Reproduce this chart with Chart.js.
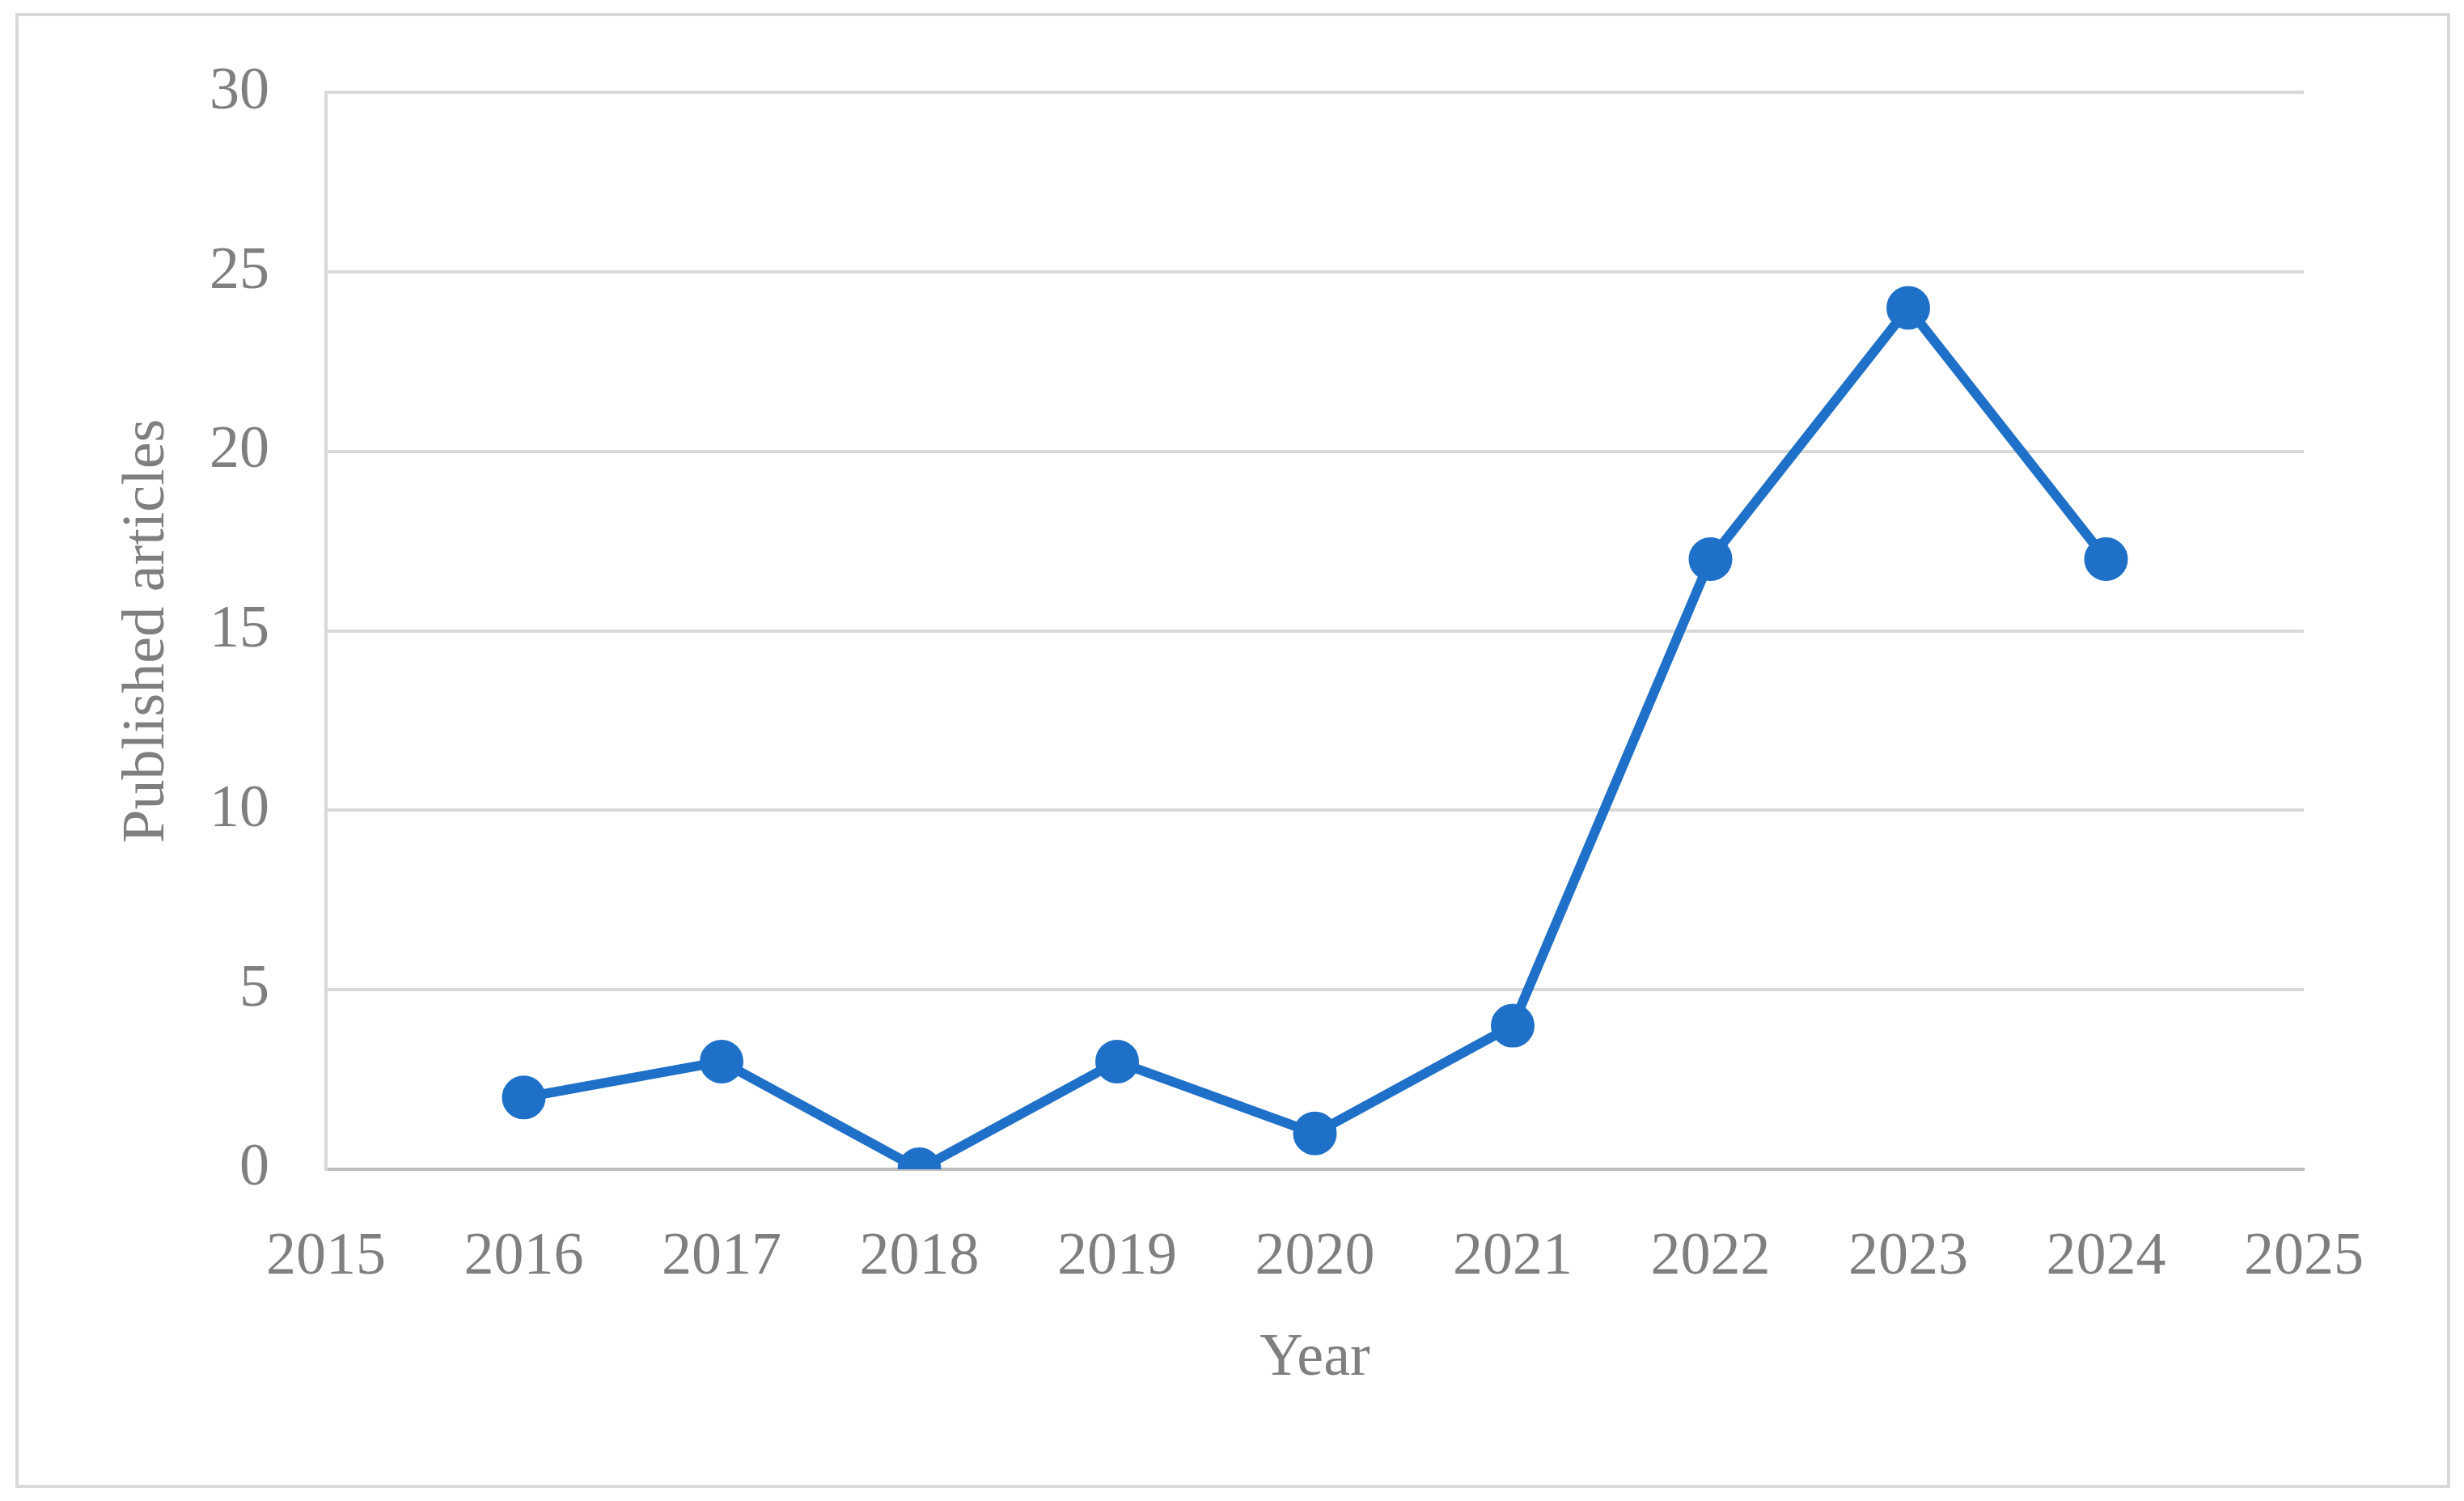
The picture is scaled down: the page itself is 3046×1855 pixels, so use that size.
<!DOCTYPE html>
<html>
<head>
<meta charset="utf-8">
<script src="https://cdn.jsdelivr.net/npm/chart.js@4/dist/chart.umd.min.js"></script>
<style>
  html, body { margin: 0; padding: 0; background: #fff; }
  #wrap { position: relative; width: 3046px; height: 1855px; }
  #frame { position: absolute; left: 19px; top: 16px; width: 3002px; height: 1815px; border: 4px solid #d9d9d9; }
  canvas { position: absolute; left: 0; top: 0; }
</style>
</head>
<body>
<div id="wrap">
  <div id="frame"></div>
  <canvas id="chart" width="3046" height="1855"></canvas>
</div>
<script>
// data
const years = [2016, 2017, 2018, 2019, 2020, 2021, 2022, 2023, 2024];
const articles = [2, 3, 0, 3, 1, 4, 17, 24, 17];
const xRange = [2015, 2025];
const yRange = [0, 30];

const gray = "#7f7f7f";
const font = { family: "'Liberation Serif', 'DejaVu Serif', serif", size: 74 };

new Chart(document.getElementById("chart").getContext("2d"), {
    type: "line",
    data: {
        datasets: [
            {
                label: "Published articles",
                data: years.map((y, i) => ({ x: y, y: articles[i] })),
                borderColor: "#1f70c8",
                backgroundColor: "#1f70c8",
                borderWidth: 12,
                pointRadius: 21,
                pointHoverRadius: 21,
                tension: 0,
            },
        ],
    },
    options: {
        responsive: false,
        animation: false,
        layout: { padding: { top: 107, right: 198, left: 0, bottom: 0 } },
        plugins: { legend: { display: false }, tooltip: { enabled: false } },
        scales: {
            x: {
                type: "linear",
                min: xRange[0],
                max: xRange[1],
                ticks: { stepSize: 1, color: gray, font: font, padding: 65, callback: (v) => String(v) },
                grid: { display: false, drawTicks: false },
                border: { color: "#bfbfbf", width: 4 },
                title: { display: true, text: "Year", color: gray, font: font, padding: { top: 40, bottom: 131 } },
                afterFit: (s) => { s.height = 410; },
            },
            y: {
                min: yRange[0],
                max: yRange[1],
                ticks: { stepSize: 5, color: gray, font: font, padding: 70 },
                grid: { color: "#d9d9d9", lineWidth: 4, drawTicks: false },
                border: { color: "#d9d9d9", width: 4 },
                title: { display: true, text: "Published articles", color: gray, font: font, padding: { top: 138, bottom: 0 } },
                afterFit: (s) => { s.width = 403; },
            },
        },
    },
});
</script>
</body>
</html>
